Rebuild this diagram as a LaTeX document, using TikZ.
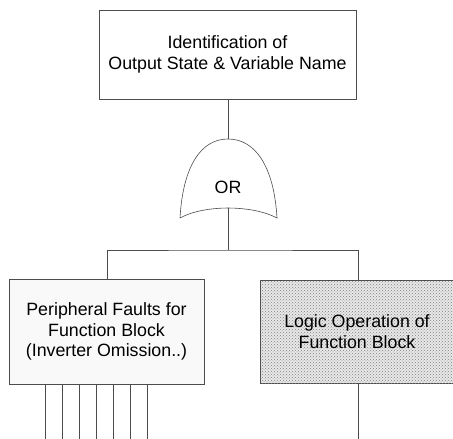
\documentclass[tikz,border=0pt]{standalone}
\usepackage{fontspec}
\setmainfont{Liberation Sans}
\usetikzlibrary{patterns}
\begin{document}
\begin{tikzpicture}[x=1pt,y=-1pt,
  wire/.style={draw=black!70,line width=0.6pt},
  lbl/.style={font=\fontsize{17.8}{20.5}\selectfont,align=center,inner sep=0pt},
  eventbox/.style={draw=black!70,line width=0.6pt,inner sep=0pt,align=center,
    font=\fontsize{17.8}{20.5}\selectfont},
  faultbox/.style={eventbox,fill=gray!5},
  logicbox/.style={eventbox,fill=gray!18,postaction={pattern=crosshatch dots,pattern color=black!50}}]
\useasboundingbox (0,0) rectangle (453,439);

% top event
\node[eventbox,minimum width=257pt,minimum height=89pt] (top) at (227.5,54.5)
  {Identification of\\Output State \& Variable Name};

% OR gate
\coordinate (gtop) at (228,139);
\coordinate (gbot) at (228,208);
\draw[wire,fill=white] (180,218) .. controls (183,166) and (201,139) .. (gtop)
  .. controls (255,139) and (274,166) .. (277,218)
  .. controls (252,204.7) and (204,204.7) .. (180,218) -- cycle;
\node[lbl] (or) at (228,187) {OR};

% lower events
\node[faultbox,minimum width=195pt,minimum height=105pt] (left) at (106.5,331.5)
  {Peripheral Faults for\\Function Block\\(Inverter Omission..)};
\node[logicbox,minimum width=194pt,minimum height=103pt] (right) at (357,331.5)
  {Logic Operation of\\Function Block};

% connectors
\draw[wire] (top.south -| gtop) -- (gtop);
\coordinate (bus) at (228,250);
\draw[wire] (gbot) -- (bus);
\draw[wire] (left.north -| 107,0) |- (bus) -| (right.north -| 358,0);

% dangling inputs
\foreach \x in {45,62,79,96,113,130,147}
  \draw[wire] (left.south -| \x,0) -- (\x,439);
\draw[wire] (right.south -| 358,0) -- (358,439);
\end{tikzpicture}
\end{document}
